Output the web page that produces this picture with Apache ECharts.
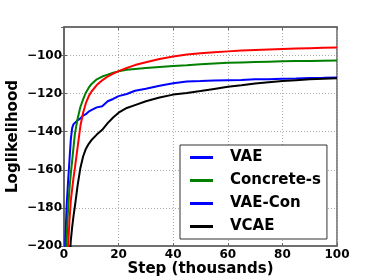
<!DOCTYPE html>
<html><head><meta charset="utf-8">
<script src="https://cdn.jsdelivr.net/npm/echarts@6/dist/echarts.min.js"></script>
<style>html,body{margin:0;padding:0;background:#fff}#c{width:374px;height:280px}</style>
</head><body><div id="c"></div>
<script>
var steps = [0,0.5,1,1.5,2,2.5,3,3.5,4,5,6,7,8,9,10,12,14,16,18,20,23,26,30,35,40,45,50,55,60,65,70,75,80,85,90,95,100];
var vae = [-240,-196,-178,-166,-155,-144,-138,-136,-135,-134,-133,-131.5,-130.8,-129.5,-128.7,-127.2,-126.6,-124,-122.8,-121.3,-120.2,-118.5,-117.4,-115.9,-114.5,-113.6,-113.4,-113.1,-112.9,-112.8,-112.5,-112.4,-112.2,-112.1,-111.8,-111.7,-111.5];
var concreteS = [-260,-215,-196,-180,-170,-162,-155,-148,-141,-133,-127,-123,-119.5,-117,-115,-112.5,-111,-110,-109,-108.3,-107.5,-107,-106.5,-106,-105.5,-105.1,-104.6,-104.2,-103.8,-103.6,-103.4,-103.2,-103.0,-102.9,-102.8,-102.7,-102.6];
var vaeCon = [-280,-240,-215,-200,-187,-176,-170,-164,-159,-148,-137,-130,-125,-121.5,-119,-115.5,-113,-111,-109.5,-108.2,-106.5,-105,-103.5,-101.8,-100.5,-99.5,-98.8,-98.2,-97.8,-97.4,-97.1,-96.8,-96.5,-96.3,-96.1,-95.9,-95.7];
var vcae = [-300,-270,-245,-225,-208,-197,-190,-184,-179,-168,-159,-153,-149,-146.5,-144.5,-141.5,-139,-135.5,-132.5,-130,-127.5,-126,-124,-122,-120.5,-119.6,-118.6,-117.5,-116.4,-115.6,-114.7,-114,-113.4,-112.9,-112.5,-112.2,-111.9];
var xTicks = [0,20,40,60,80,100];
var yTicks = [-200,-180,-160,-140,-120,-100];

function pairs(ys){ return steps.map(function(x,i){ return [x, ys[i]]; }); }
var font = 'DejaVu Sans';
var frame = '#666';
var chart = echarts.init(document.getElementById('c'), null, {renderer:'canvas'});
function mk(name, ys, color){
  return {name:name, type:'line', data:pairs(ys), showSymbol:false, symbol:'none', clip:true,
    lineStyle:{color:color, width:2}, itemStyle:{color:color}, animation:false};
}
var grid = {left:64, right:37, top:27, bottom:34, show:true, borderColor:frame, borderWidth:1.5,
    containLabel:false, outerBoundsMode:'none'};
var dotted = {show:true, lineStyle:{color:'#aaa', type:[1,2], width:1}};
chart.setOption({
  backgroundColor:'#fff',
  animation:false,
  grid:grid,
  legend:{
    orient:'vertical', left:180, top:145, padding:[5,6,5,10], itemGap:8,
    itemWidth:23, itemHeight:3, icon:'rect',
    backgroundColor:'#fff', borderColor:'#333', borderWidth:1, borderRadius:0,
    textStyle:{fontFamily:font, fontWeight:'bold', fontSize:15, color:'#000', padding:[0,0,0,12]},
    data:[
      {name:'VAE', itemStyle:{color:'#0000ff'}},
      {name:'Concrete-s', itemStyle:{color:'#008000'}},
      {name:'VAE-Con', itemStyle:{color:'#0000ff'}},
      {name:'VCAE', itemStyle:{color:'#000000'}}
    ]
  },
  xAxis:[{
    type:'value', min:xTicks[0], max:xTicks[xTicks.length-1], interval:20,
    name:'Step (thousands)', nameLocation:'middle', nameGap:16, nameMoveOverlap:false,
    nameTextStyle:{fontFamily:font, fontWeight:'bold', fontSize:15, color:'#000'},
    axisLine:{lineStyle:{color:frame, width:1.5}},
    axisTick:{inside:true, length:3, lineStyle:{color:frame}},
    axisLabel:{fontFamily:font, fontWeight:'bold', fontSize:12, color:'#000', margin:3},
    splitLine:dotted
  },{
    type:'value', position:'top', min:xTicks[0], max:xTicks[xTicks.length-1], interval:20,
    axisLine:{lineStyle:{color:frame, width:1.5}},
    axisTick:{inside:true, length:3, lineStyle:{color:frame}},
    axisLabel:{show:false}, splitLine:{show:false}
  }],
  yAxis:[{
    type:'value', min:yTicks[0], max:-85, interval:20,
    name:'Loglikelihood', nameLocation:'middle', nameGap:43, nameMoveOverlap:false,
    nameTextStyle:{fontFamily:font, fontWeight:'bold', fontSize:15, color:'#000'},
    axisLine:{lineStyle:{color:frame, width:1.5}},
    axisTick:{inside:true, length:3, lineStyle:{color:frame}},
    axisLabel:{fontFamily:font, fontWeight:'bold', fontSize:12, color:'#000', margin:2,
      showMaxLabel:false,
      formatter:function(v){ return yTicks.indexOf(v) >= 0 ? String(v).replace('-', '\u2212') : ''; }},
    splitLine:dotted
  },{
    type:'value', position:'right', min:yTicks[0], max:-85, interval:20,
    axisLine:{show:true, lineStyle:{color:frame, width:1.5}},
    axisTick:{show:true, inside:true, length:3, lineStyle:{color:frame}},
    axisLabel:{show:false}, splitLine:{show:false}
  }],
  series:[
    mk('VAE', vae, '#0000ff'),
    mk('Concrete-s', concreteS, '#008000'),
    mk('VAE-Con', vaeCon, '#ff0000'),
    mk('VCAE', vcae, '#000000')
  ]
});
</script></body></html>
